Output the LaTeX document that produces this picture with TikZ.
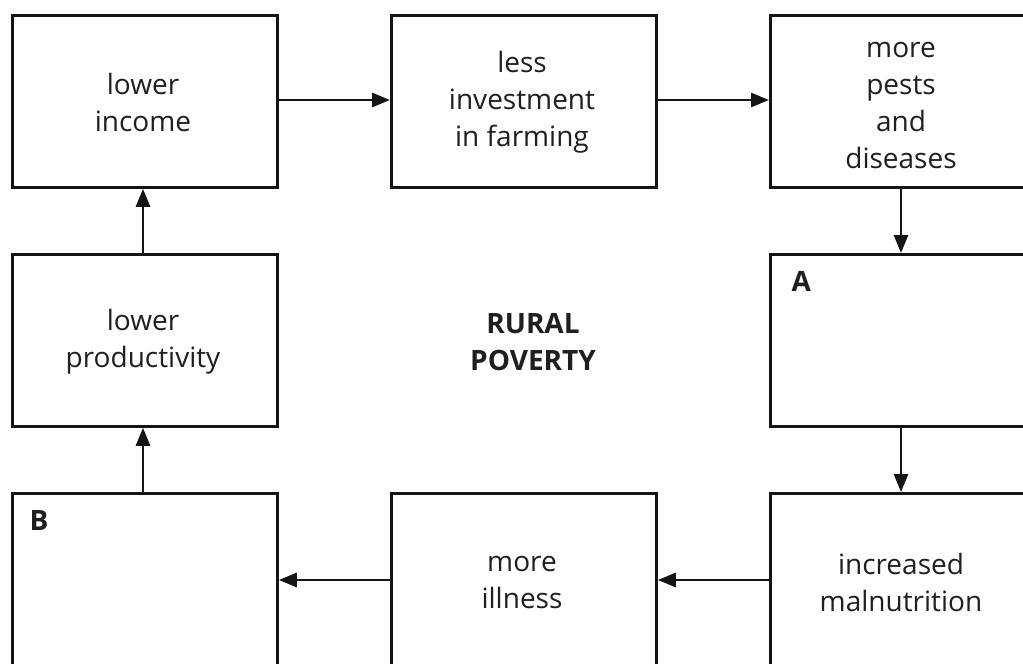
\documentclass[tikz,border=0pt]{standalone}
\usepackage{fontspec}
\setmainfont{Open Sans}
\usetikzlibrary{arrows.meta}
\begin{document}
\begin{tikzpicture}[x=1pt,y=-1pt,
  box/.style={draw=black!92,line width=2.8pt,minimum width=265pt,minimum height=172pt,inner sep=0pt,anchor=north west},
  lbl/.style={align=center,font=\fontsize{28}{37}\selectfont,text=black!88},
  arr/.style={line width=2.8pt,draw=black!92,-{Triangle[length=18pt,width=14pt]}}]
\useasboundingbox (0,0) rectangle (1023,664);
\clip (0,0) rectangle (1023,664);
\node[box] (b1) at (11,14) {};
\node[box] (b2) at (390,14) {};
\node[box] (b3) at (769,14) {};
\node[box] (b4) at (11,253) {};
\node[box] (b5) at (769,253) {};
\node[box] (b6) at (11,492) {};
\node[box] (b7) at (390,492) {};
\node[box] (b8) at (769,492) {};
\node[lbl] (t1) at (143,102) {lower\\income};
\node[lbl] (t2) at (522,102) {less\\investment\\in farming};
\node[lbl] (t3) at (901,106) {more\\pests\\and\\diseases};
\node[lbl] (t4) at (143,342) {lower\\productivity};
\node[lbl,font=\fontsize{28}{37}\selectfont\bfseries] (t0) at (533,342) {RURAL\\POVERTY};
\node[lbl,font=\fontsize{28}{37}\selectfont\bfseries,anchor=north west] (tA) at (788,268) {A};
\node[lbl,font=\fontsize{28}{37}\selectfont\bfseries,anchor=north west] (tB) at (26,507) {B};
\node[lbl] (t7) at (522,582) {more\\illness};
\node[lbl] (t8) at (901,582) {increased\\malnutrition};
\draw[arr] (b1.east |- 0,100) -- (b2.west |- 0,100);
\draw[arr] (b2.east |- 0,100) -- (b3.west |- 0,100);
\draw[arr] (b3.south -| 901,0) -- (b5.north -| 901,0);
\draw[arr] (b5.south -| 901,0) -- (b8.north -| 901,0);
\draw[arr] (b8.west |- 0,580) -- (b7.east |- 0,580);
\draw[arr] (b7.west |- 0,580) -- (b6.east |- 0,580);
\draw[arr] (b6.north -| 143,0) -- (b4.south -| 143,0);
\draw[arr] (b4.north -| 143,0) -- (b1.south -| 143,0);
\end{tikzpicture}
\end{document}
